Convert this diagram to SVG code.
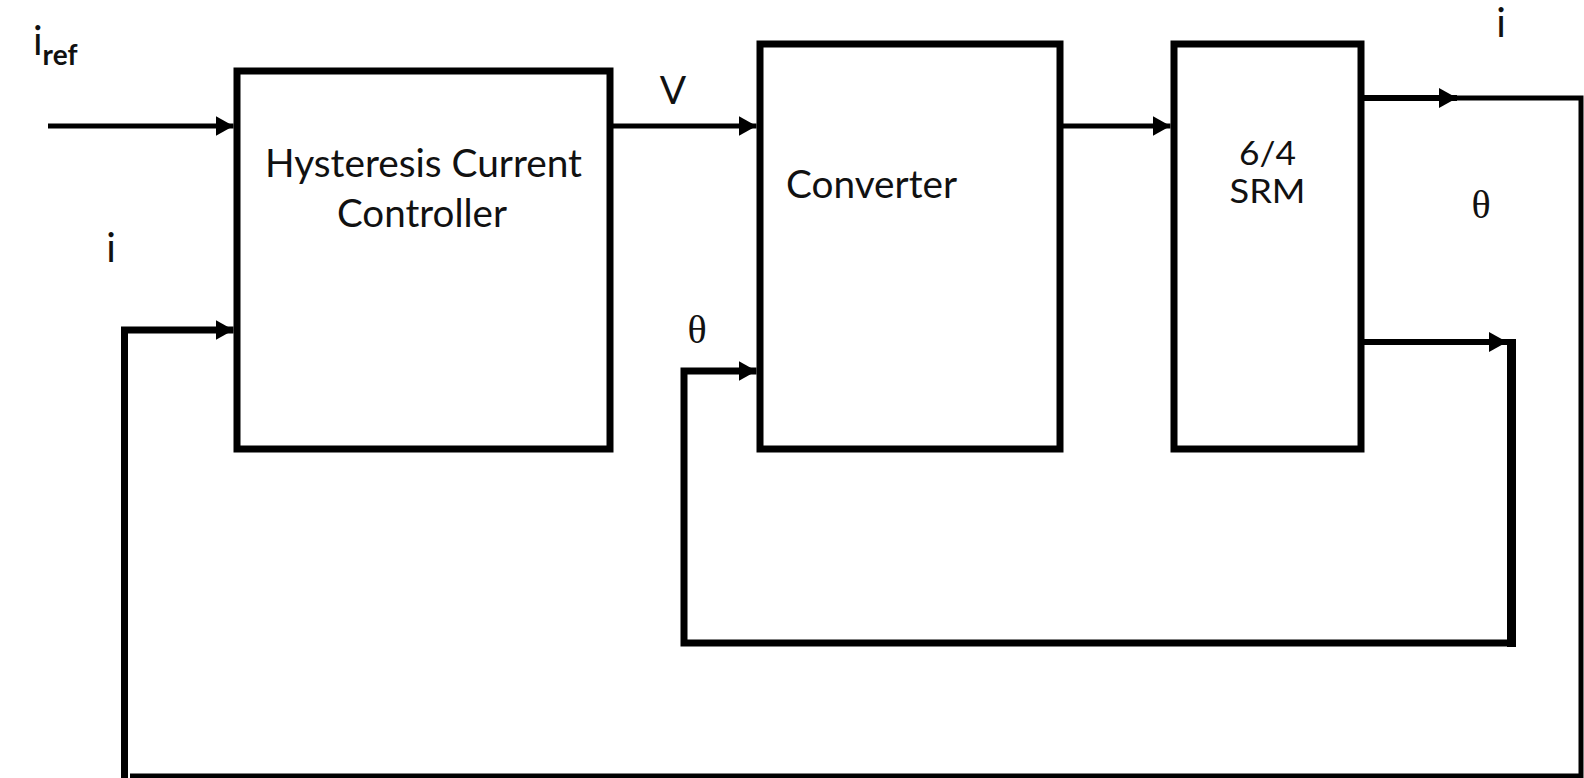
<svg xmlns="http://www.w3.org/2000/svg" width="1584" height="778" viewBox="0 0 1584 778">
<style>
.box{fill:#fff;stroke:#000;stroke-width:7}
.ln{fill:none;stroke:#000;stroke-linejoin:miter;stroke-linecap:butt}
.lbl{font-family:Lato,"Liberation Sans",sans-serif;fill:#111}
.th{font-family:"Liberation Serif",serif;fill:#111}
</style>
<defs>
<marker id="ah" markerUnits="userSpaceOnUse" markerWidth="20" markerHeight="22" refX="18" refY="10" orient="auto">
<path d="M0,0 L18,10 L0,20 z" fill="#000"/>
</marker>
</defs>
<rect width="1584" height="778" fill="#fff"/>
<g id="connectors">
<line class="ln" x1="48" y1="126" x2="233.5" y2="126" stroke-width="5" marker-end="url(#ah)"/>
<line class="ln" x1="610" y1="126" x2="756.5" y2="126" stroke-width="5" marker-end="url(#ah)"/>
<line class="ln" x1="1060" y1="126" x2="1170.5" y2="126" stroke-width="5" marker-end="url(#ah)"/>
<line class="ln" x1="1361" y1="98" x2="1457" y2="98" stroke-width="6" marker-end="url(#ah)"/>
<path class="ln" d="M1445,98 H1581 V776 H130" stroke-width="5"/>
<path class="ln" d="M1581,98 V776" stroke-width="3"/>
<path class="ln" d="M124.5,778 V330 H233.5" stroke-width="7" marker-end="url(#ah)"/>
<line class="ln" x1="1361" y1="342" x2="1507" y2="342" stroke-width="6" marker-end="url(#ah)"/>
<path class="ln" d="M1511.5,339 V643 H684 V371 H756.5" stroke-width="7" marker-end="url(#ah)"/>
<path class="ln" d="M1511.5,339 V647" stroke-width="9"/>
</g>
<g id="controller">
<rect class="box" x="237" y="71" width="373" height="378"/>
<text class="lbl" x="423.5" y="177" font-size="39" text-anchor="middle" textLength="317" lengthAdjust="spacingAndGlyphs">Hysteresis Current</text>
<text class="lbl" x="422" y="227" font-size="39" text-anchor="middle" textLength="170" lengthAdjust="spacingAndGlyphs">Controller</text>
</g>
<g id="converter">
<rect class="box" x="760" y="44" width="300" height="405"/>
<text class="lbl" x="786" y="198" font-size="39" textLength="171" lengthAdjust="spacingAndGlyphs">Converter</text>
</g>
<g id="srm">
<rect class="box" x="1174" y="44" width="187" height="405"/>
<text class="lbl" x="1267.5" y="165" font-size="32" text-anchor="middle" textLength="57" lengthAdjust="spacingAndGlyphs">6/4</text>
<text class="lbl" x="1267.5" y="203" font-size="32" text-anchor="middle" textLength="76" lengthAdjust="spacingAndGlyphs">SRM</text>
</g>
<g id="labels">
<text class="lbl" x="33" y="55" font-size="40">i<tspan font-size="28" font-weight="bold" dy="10">ref</tspan></text>
<text class="lbl" x="673" y="104" font-size="39" text-anchor="middle">V</text>
<text class="lbl" x="1501" y="37" font-size="40" text-anchor="middle">i</text>
<text class="lbl" x="111" y="262" font-size="40" text-anchor="middle">i</text>
<text class="th" x="1481" y="218" font-size="40" text-anchor="middle">θ</text>
<text class="th" x="697" y="343" font-size="40" text-anchor="middle">θ</text>
</g>
</svg>
